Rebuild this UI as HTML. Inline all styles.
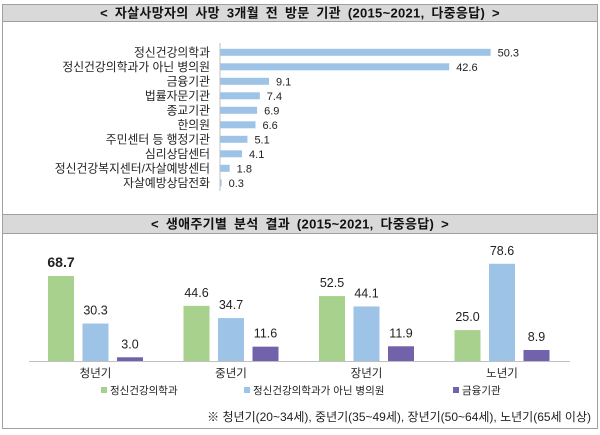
<!DOCTYPE html>
<html><head><meta charset="utf-8"><style>
body{margin:0;background:#fff;}
svg text{font-family:"Liberation Sans","Noto Sans CJK KR",sans-serif;}
</style></head><body>
<svg width="600" height="430" viewBox="0 0 600 430" xmlns="http://www.w3.org/2000/svg">
<rect x="2.5" y="4.5" width="595" height="424" fill="#fff" stroke="#a0a0a0"/>
<rect x="2.5" y="4.5" width="595" height="17" fill="#d9d9d9" stroke="#a0a0a0"/>
<text x="300" y="17.5" text-anchor="middle" font-size="13" font-weight="bold" word-spacing="3" letter-spacing="0.3" fill="#111">&lt; 자살사망자의 사망 3개월 전 방문 기관 (2015~2021, 다중응답) &gt;</text>
<rect x="2.5" y="214.5" width="595" height="19" fill="#d9d9d9" stroke="#a0a0a0"/>
<text x="300" y="228.5" text-anchor="middle" font-size="13" font-weight="bold" word-spacing="3" letter-spacing="0.3" fill="#111">&lt; 생애주기별 분석 결과 (2015~2021, 다중응답) &gt;</text>
<g id="top"></g>
<g id="bottom"></g>
<text x="591" y="421" text-anchor="end" font-size="12" fill="#222">※ 청년기(20~34세), 중년기(35~49세), 장년기(50~64세), 노년기(65세 이상)</text>
</svg>
<script>
const topCats=["정신건강의학과","정신건강의학과가 아닌 병의원","금융기관","법률자문기관","종교기관","한의원","주민센터 등 행정기관","심리상담센터","정신건강복지센터/자살예방센터","자살예방상담전화"];
const topVals=[50.3,42.6,9.1,7.4,6.9,6.6,5.1,4.1,1.8,0.3];
const groups=["청년기","중년기","장년기","노년기"];
const seriesNames=["정신건강의학과","정신건강의학과가 아닌 병의원","금융기관"];
const sGreen=[68.7,44.6,52.5,25.0];
const sBlue=[30.3,34.7,44.1,78.6];
const sPurple=[3.0,11.6,11.9,8.9];
const NS="http://www.w3.org/2000/svg";
function mk(p,t,a,txt){const e=document.createElementNS(NS,t);for(const k in a)e.setAttribute(k,a[k]);if(txt!=null)e.textContent=txt;p.appendChild(e);return e;}
const tg=document.getElementById('top');
const x0=220,xs=v=>x0+v*5.38,yr=i=>52.3+i*14.5;
topCats.forEach((c,i)=>{
 const b=mk(tg,'rect',{x:x0,y:yr(i)-3.5,width:xs(topVals[i])-x0,height:7,fill:'#9dc3e6'});
 
 
 const l=mk(tg,'text',{x:210,y:yr(i)+4,'text-anchor':'end','font-size':11.8,fill:'#222'},c);
 
 
 const v=mk(tg,'text',{x:xs(topVals[i])+7,y:yr(i)+4,'font-size':11,fill:'#222'},topVals[i].toFixed(1));
 
 
});
const ax=mk(tg,'line',{x1:x0,x2:x0,y1:43,y2:191,stroke:'#bfbfbf'});


const bg=document.getElementById('bottom');
const base=361,ys=v=>v*1.237;
const series=[sGreen,sBlue,sPurple],cols=['#a9d18e','#9dc3e6','#7262ac'];
groups.forEach((g,gi)=>{
 const gx=48+gi*135.5;
 series.forEach((s,si)=>{
  const x=gx+si*34.5,h=ys(s[gi]);
  const r=mk(bg,'rect',{x:x,y:base-h,width:26,height:h,fill:cols[si]});
  
  
  const t=mk(bg,'text',{x:x+13,y:base-h-9,'text-anchor':'middle','font-size':(gi==0&&si==0)?14:12.5,'font-weight':(gi==0&&si==0)?'bold':'normal',fill:'#222'},s[gi].toFixed(1));
  
  
 });
 const c=mk(bg,'text',{x:gx+47.5,y:377,'text-anchor':'middle','font-size':11.5,fill:'#222'},g);
 
 
});
const bl=mk(bg,'line',{x1:29,x2:570,y1:base+0.5,y2:base+0.5,stroke:'#bfbfbf'});


const lx=[101,244,453];
seriesNames.forEach((n,i)=>{
 const m=mk(bg,'rect',{x:lx[i],y:387,width:6,height:6,fill:cols[i]});
 
 
 const t=mk(bg,'text',{x:lx[i]+9,y:394,'font-size':10.5,fill:'#222'},n);
 
 
});
</script>
</body></html>
